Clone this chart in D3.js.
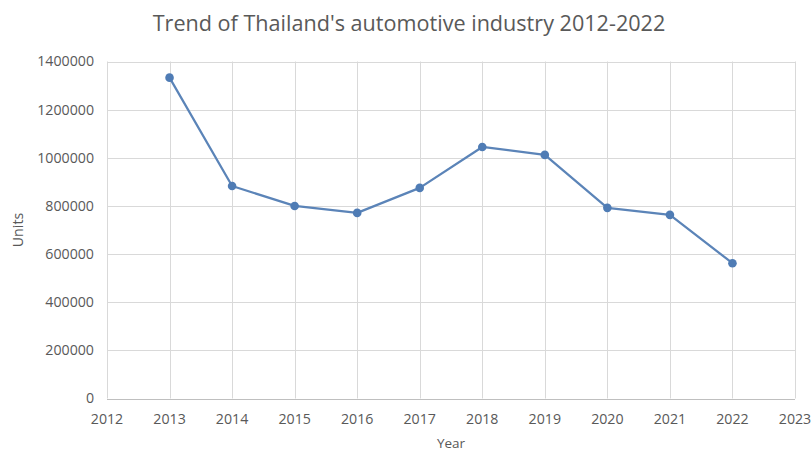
<!DOCTYPE html>
<html>
<head>
<meta charset="utf-8">
<script src="https://cdn.jsdelivr.net/npm/d3@7"></script>
<style>
  html, body { margin: 0; padding: 0; background: #fff; }
  svg { display: block; font-family: "Open Sans", "Noto Sans", sans-serif; }
</style>
</head>
<body>
<svg id="chart" width="812" height="451"></svg>
<script>
// Annual vehicle production in Thailand
const years = [2013, 2014, 2015, 2016, 2017, 2018, 2019, 2020, 2021, 2022];
const units = [1333000, 883000, 800000, 771000, 875000, 1045000, 1012000, 792000, 763000, 562000];
const xTicks = [2012, 2013, 2014, 2015, 2016, 2017, 2018, 2019, 2020, 2021, 2022, 2023];
const yTicks = [0, 200000, 400000, 600000, 800000, 1000000, 1200000, 1400000];

const svg = d3.select("#chart");
const margin = { left: 107, right: 17, top: 61.5, bottom: 52.5 };
const W = 812, H = 451;

const x = d3.scaleLinear().domain([2012, 2023]).range([margin.left, W - margin.right]);
const y = d3.scaleLinear().domain([0, 1400000]).range([H - margin.bottom, margin.top]);

const textColor = "#595959";
const gridColor = "#d9d9d9";
const tickFont = 14.2;

// Horizontal gridlines
svg.append("g").selectAll("line").data(yTicks).join("line")
  .attr("x1", x(2012)).attr("x2", x(2023))
  .attr("y1", d => Math.round(y(d)) + 0.5).attr("y2", d => Math.round(y(d)) + 0.5)
  .attr("stroke", gridColor).attr("stroke-width", 1);

// Vertical gridlines
svg.append("g").selectAll("line").data(xTicks).join("line")
  .attr("x1", d => Math.round(x(d)) + 0.5).attr("x2", d => Math.round(x(d)) + 0.5)
  .attr("y1", y(1400000)).attr("y2", y(0))
  .attr("stroke", gridColor).attr("stroke-width", 1);

// Horizontal axis baseline
svg.append("line")
  .attr("x1", x(2012)).attr("x2", x(2023))
  .attr("y1", Math.round(y(0)) + 0.5).attr("y2", Math.round(y(0)) + 0.5)
  .attr("stroke", "#bfbfbf").attr("stroke-width", 1);

// Y tick labels
svg.append("g").selectAll("text").data(yTicks).join("text")
  .attr("x", margin.left - 13).attr("y", d => y(d))
  .attr("dy", "0.35em").attr("text-anchor", "end")
  .attr("font-size", tickFont).attr("fill", textColor)
  .text(d => d);

// X tick labels
svg.append("g").selectAll("text").data(xTicks).join("text")
  .attr("x", d => x(d)).attr("y", y(0) + 25)
  .attr("text-anchor", "middle")
  .attr("font-size", tickFont).attr("fill", textColor)
  .text(d => d);

// Title
svg.append("text")
  .attr("x", 409).attr("y", 31)
  .attr("text-anchor", "middle")
  .attr("font-size", 21.6).attr("fill", textColor)
  .text("Trend of Thailand's automotive industry 2012-2022");

// Axis titles
svg.append("text")
  .attr("x", 451).attr("y", 448)
  .attr("text-anchor", "middle")
  .attr("font-size", 13.5).attr("fill", textColor)
  .text("Year");

svg.append("text")
  .attr("transform", `translate(23, ${(y(0) + y(1400000)) / 2}) rotate(-90)`)
  .attr("text-anchor", "middle")
  .attr("font-size", tickFont).attr("fill", textColor)
  .text("Units");

// Series line and markers
const pts = years.map((yr, i) => ({ yr, v: units[i] }));
const lineColor = "#5b84b8";

svg.append("path")
  .datum(pts)
  .attr("d", d3.line().x(d => x(d.yr)).y(d => y(d.v)))
  .attr("fill", "none")
  .attr("stroke", lineColor)
  .attr("stroke-width", 2.25)
  .attr("stroke-linejoin", "round");

svg.append("g").selectAll("circle").data(pts).join("circle")
  .attr("cx", d => x(d.yr)).attr("cy", d => y(d.v))
  .attr("r", 4.3)
  .attr("fill", "#4f7cb5");
</script>
</body>
</html>
